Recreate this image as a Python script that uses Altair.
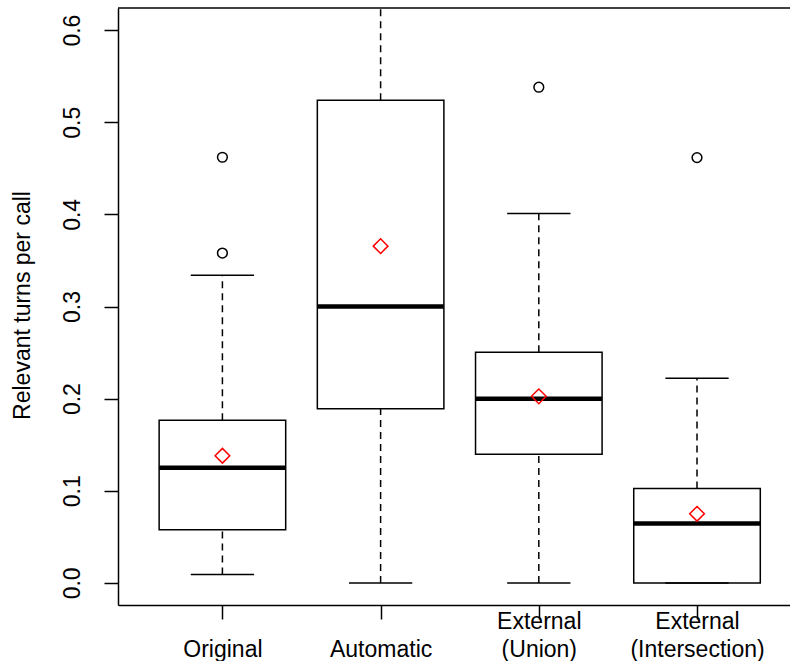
import json
import altair as alt
import pandas as pd

# ---- data ----
categories = ["Original", "Automatic", "External\n(Union)", "External\n(Intersection)"]
positions = [1, 2, 3, 4]
whisker_low = [0.009, 0.0, 0.0, 0.0]
q1 = [0.0576, 0.189, 0.1395, 0.0]
medians = [0.125, 0.300, 0.200, 0.0645]
q3 = [0.1764, 0.524, 0.2503, 0.1025]
whisker_high = [0.334, 0.700, 0.401, 0.222]   # Automatic whisker runs past the axis limit
means = [0.138, 0.3655, 0.2025, 0.075]
outlier_pos = [1, 1, 3, 4]
outlier_vals = [0.358, 0.462, 0.538, 0.4616]
y_ticks = [0.0, 0.1, 0.2, 0.3, 0.4, 0.5, 0.6]

box_df = pd.DataFrame({
    "pos": positions, "lo": whisker_low, "q1": q1, "median": medians,
    "q3": q3, "hi": whisker_high, "mean": means,
})
out_df = pd.DataFrame({"pos": outlier_pos, "value": outlier_vals})
frame_df = pd.DataFrame({"k": [0]})

W, H = 672, 597
FONT = "Liberation Sans"

# two-line label arrays (single-line labels sit on the second line)
lines = []
for c in categories:
    parts = c.split("\n")
    lines.append([""] * (2 - len(parts)) + parts)
label_expr = json.dumps(lines) + "[round(datum.value) - 1]"

xscale = alt.Scale(domain=[0.34, 0.34 + W / 158.2], nice=False, zero=False)
yscale = alt.Scale(domain=[-0.024, 0.624], nice=False, zero=False)

xaxis = alt.Axis(
    values=positions, labelExpr=label_expr, title=None, grid=False,
    tickSize=14, tickWidth=1.5, tickColor="black",
    domainColor="black", domainWidth=1.5,
    labelFont=FONT, labelFontSize=23, labelColor="black",
    labelLineHeight=28, labelBaseline="top", labelAlign="center",
    labelPadding=-9, labelFlush=False, labelOverlap=False,
)
yaxis = alt.Axis(
    values=y_ticks, format=".1f", grid=False,
    tickSize=14, tickWidth=1.5, tickColor="black",
    domainColor="black", domainWidth=1.5,
    labelFont=FONT, labelFontSize=23, labelColor="black",
    labelAngle=270, labelAlign="center", labelBaseline="middle",
    labelPadding=32, labelFlush=False, labelOverlap=False,
    title="Relevant turns per call", titleFont=FONT, titleFontSize=23,
    titleFontWeight="normal", titleColor="black", titleAngle=270,
    titleAlign="center", titleBaseline="middle", titleX=-96, titleY=297,
)


def X(f):
    return alt.X(f, type="quantitative", scale=xscale, axis=xaxis)


def Y(f):
    return alt.Y(f, type="quantitative", scale=yscale, axis=yaxis)


base = alt.Chart(box_df)
dash = [7, 5]

whisk_up = base.mark_rule(color="black", strokeWidth=1.5, strokeDash=dash, clip=True).encode(
    x=X("pos"), y=Y("q3"), y2="hi:Q")
whisk_dn = base.mark_rule(color="black", strokeWidth=1.5, strokeDash=dash, clip=True).encode(
    x=X("pos"), y=Y("lo"), y2="q1:Q")

boxes = base.transform_calculate(
    x1="datum.pos - 0.4", x2="datum.pos + 0.4"
).mark_rect(fill="white", stroke="black", strokeWidth=1.5, clip=True).encode(
    x=X("x1"), x2="x2:Q", y=Y("q1"), y2="q3:Q")

med = base.transform_calculate(
    x1="datum.pos - 0.4", x2="datum.pos + 0.4"
).mark_rule(color="black", strokeWidth=4.5, strokeCap="butt").encode(
    x=X("x1"), x2="x2:Q", y=Y("median"))

caps_hi = base.transform_calculate(
    c1="datum.pos - 0.2", c2="datum.pos + 0.2"
).mark_rule(color="black", strokeWidth=1.5, clip=True).encode(
    x=X("c1"), x2="c2:Q", y=Y("hi"))
caps_lo = base.transform_calculate(
    c1="datum.pos - 0.2", c2="datum.pos + 0.2"
).mark_rule(color="black", strokeWidth=1.5, clip=True).encode(
    x=X("c1"), x2="c2:Q", y=Y("lo"))

outl = alt.Chart(out_df).mark_point(
    shape="circle", filled=False, size=95, color="black", strokeWidth=1.5, opacity=1
).encode(x=X("pos"), y=Y("value"))

mean_pts = base.mark_point(
    shape="diamond", filled=False, size=215, color="#ff0000", strokeWidth=1.5, opacity=1
).encode(x=X("pos"), y=Y("mean"))

top_frame = alt.Chart(frame_df).mark_rule(color="black", strokeWidth=1.5).encode(
    x=alt.value(0), x2=alt.value(W), y=alt.value(0))

chart = alt.layer(
    whisk_up, whisk_dn, boxes, med, caps_hi, caps_lo, outl, mean_pts, top_frame
).properties(
    width=W, height=H,
    autosize=alt.AutoSizeParams(type="none"),
    padding={"left": 118, "top": 8, "right": 0, "bottom": 56},
    background="white",
).configure_view(strokeWidth=0)

chart.save("out.html", embed_options={"renderer": "svg", "actions": False})
